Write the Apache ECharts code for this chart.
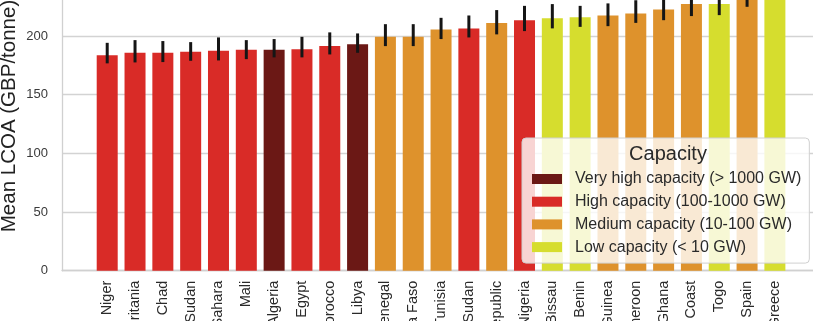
<!DOCTYPE html>
<html>
<head>
<meta charset="utf-8">
<script src="https://cdn.jsdelivr.net/npm/echarts@6/dist/echarts.min.js"></script>
<style>
html,body{margin:0;padding:0;background:#fff;}
#chart{width:813px;height:321px;}
</style>
</head>
<body>
<div id="chart"></div>
<script>
const categories = ['Niger','Mauritania','Chad','Sudan','Western Sahara','Mali','Algeria','Egypt','Morocco','Libya','Senegal','Burkina Faso','Tunisia','South Sudan','Central African Republic','Nigeria','Guinea-Bissau','Benin','Guinea','Cameroon','Ghana','Ivory Coast','Togo','Spain','Greece'];
const capacityClass = [1,1,1,1,1,1,0,1,1,0,2,2,2,1,2,1,3,3,2,2,2,2,3,2,3];
const meanLCOA = [183.7,185.7,185.7,186.6,187.4,188.3,188.3,188.8,191.6,193.0,199.3,199.3,205.6,206.4,211.0,213.5,215.2,216.0,217.5,219.2,222.6,227.2,227.2,234.0,245.0];
const errLow  = [176.7,177.5,177.8,178.9,179.2,180.3,181.8,181.8,184.3,185.7,191.4,191.4,197.4,198.8,201.4,204.2,206.5,207.8,208.4,211.2,213.5,217.0,217.8,224.9,236.0];
const errHigh = [194.2,196.5,195.7,194.8,198.8,196.5,197.4,199.3,203.1,202.2,210.1,210.1,215.5,217.5,222.1,225.7,227.2,225.7,227.8,230.5,232.0,237.0,236.0,244.0,254.0];
const capacityNames = ['Very high capacity (> 1000 GW)','High capacity (100-1000 GW)','Medium capacity (10-100 GW)','Low capacity (< 10 GW)'];
const capacityColors = ['#6b1815','#d92b27','#de922c','#d6dd2e'];
const yTicks = [0,50,100,150,200];

const FONT = 'Liberation Sans, Arial, sans-serif';
const Y_MAX = 232.4;
const GRID_TOP = -2, GRID_BOTTOM = 50.3;

const chart = echarts.init(document.getElementById('chart'), null, {renderer:'canvas'});

const barSeries = capacityNames.map((name, k) => ({
  name: name,
  type: 'bar',
  xAxisIndex: 1, yAxisIndex: 1,
  barWidth: 21,
  barGap: '-100%',
  itemStyle: {color: capacityColors[k]},
  data: meanLCOA.map((v, i) => capacityClass[i] === k ? v : '-'),
  z: 2
}));

const errSeries = {
  type: 'custom',
  xAxisIndex: 1, yAxisIndex: 1,
  z: 5,
  data: categories.map((c, i) => [i, errLow[i], errHigh[i]]),
  encode: {x: 0, y: [1, 2]},
  renderItem: function (params, api) {
    const p1 = api.coord([api.value(0), api.value(1)]);
    const p2 = api.coord([api.value(0), api.value(2)]);
    return {type: 'line', shape: {x1: p1[0], y1: p1[1], x2: p2[0], y2: p2[1]},
            style: {stroke: '#151515', lineWidth: 3}};
  }
};

const option = {
  animation: false,
  backgroundColor: '#ffffff',
  textStyle: {fontFamily: FONT},
  grid: [
    {left: 62, right: 0, top: GRID_TOP, bottom: GRID_BOTTOM, containLabel: false, outerBoundsMode: 'none'},
    {left: 93.3, right: 24.2, top: GRID_TOP, bottom: GRID_BOTTOM, containLabel: false, outerBoundsMode: 'none'}
  ],
  xAxis: [
    {gridIndex: 0, type: 'value', min: 0, max: 1,
     axisLine: {show: true, lineStyle: {color: '#d0d0d0', width: 1.3}},
     axisTick: {show: false}, axisLabel: {show: false}, splitLine: {show: false}},
    {gridIndex: 1, type: 'category', data: categories,
     axisLine: {show: false}, axisTick: {show: false},
     axisLabel: {interval: 0, rotate: 90, margin: 10, fontSize: 14.5, color: '#2a2a2a', fontFamily: FONT}}
  ],
  yAxis: [
    {gridIndex: 0, type: 'value', min: 0, max: Y_MAX, interval: 50,
     axisLine: {show: true, lineStyle: {color: '#d0d0d0', width: 1.3}},
     axisTick: {show: false},
     axisLabel: {margin: 14, fontSize: 13, color: '#3a3a3a', fontFamily: FONT,
       formatter: v => yTicks.indexOf(v) >= 0 ? String(v) : ''},
     splitLine: {show: true, lineStyle: {color: '#d3d3d3', width: 1.3}}},
    {gridIndex: 1, type: 'value', min: 0, max: Y_MAX, show: false, splitLine: {show: false}}
  ],
  legend: {
    data: capacityNames,
    orient: 'vertical',
    left: 522, top: 138,
    padding: [32, 8, 7, 10],
    itemWidth: 30, itemHeight: 10, itemGap: 4.7,
    icon: 'rect',
    selectedMode: false,
    backgroundColor: 'rgba(255,255,255,0.8)',
    borderColor: '#d0d0d0', borderWidth: 1, borderRadius: 4,
    textStyle: {fontSize: 16, color: '#2a2a2a', fontFamily: FONT, lineHeight: 18, padding: [0, 0, 0, 8]},
    z: 10
  },
  graphic: [
    {type: 'text', z: 100, x: 9, y: 116, rotation: Math.PI / 2,
     style: {text: 'Mean LCOA (GBP/tonne)', font: '20.5px ' + FONT, fill: '#222', textAlign: 'center', textVerticalAlign: 'middle'}},
    {type: 'text', z: 100, x: 668, y: 154,
     style: {text: 'Capacity', font: '20px ' + FONT, fill: '#2a2a2a', textAlign: 'center', textVerticalAlign: 'middle'}}
  ],
  series: barSeries.concat([errSeries])
};

chart.setOption(option);
</script>
</body>
</html>
